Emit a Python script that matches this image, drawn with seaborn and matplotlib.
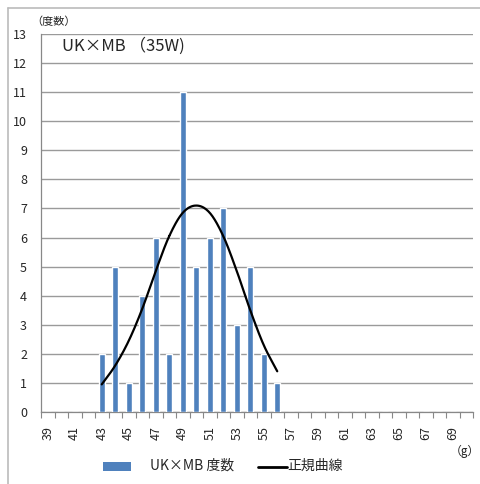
import numpy as np
import pandas as pd
import matplotlib
matplotlib.use("Agg")
import matplotlib.pyplot as plt
import seaborn as sns
from matplotlib.patches import Rectangle
from matplotlib.lines import Line2D

# ---- data ----
categories = list(range(39, 71))
bar_x = [43, 44, 45, 46, 47, 48, 49, 50, 51, 52, 53, 54, 55, 56]
bar_counts = [2, 5, 1, 4, 6, 2, 11, 5, 6, 7, 3, 5, 2, 1]
curve_x = [43, 44, 45, 46, 47, 48, 49, 50, 51, 52, 53, 54, 55, 56]
curve_y = [0.95, 1.6, 2.45, 3.55, 4.85, 6.05, 6.85, 7.1, 6.85, 6.05, 4.85, 3.5, 2.3, 1.4]
y_ticks = list(range(0, 14))
title_text = "UK×MB （35W)"
bar_label = "UK×MB 度数"
curve_label = "正規曲線"
y_unit = "（度数）"
x_unit = "（g）"

sns.set_theme(style="white")
plt.rcParams['font.family'] = ['Noto Sans CJK JP', 'DejaVu Sans']

BLUE = "#4F81BD"
counts_map = dict(zip(bar_x, bar_counts))
df = pd.DataFrame({
    "x": [str(c) for c in categories],
    "count": [counts_map.get(c, 0) for c in categories],
})

fig = plt.figure(figsize=(4.8, 4.84), dpi=100)
ax = fig.add_axes([41/480, 1 - 412/484, (473 - 41)/480, (412 - 34)/484])

sns.barplot(data=df, x="x", y="count", order=[str(c) for c in categories],
            color=BLUE, saturation=1, width=0.45, ax=ax, zorder=3)

# smooth curve (Catmull-Rom rendering through read points)
pos = np.array([categories.index(c) for c in curve_x], dtype=float)
yv = np.array(curve_y, dtype=float)
P = np.column_stack([pos, yv])
P = np.vstack([2 * P[0] - P[1], P, 2 * P[-1] - P[-2]])
xs, ys = [], []
t = np.linspace(0, 1, 20)
for i in range(1, len(P) - 2):
    p0, p1, p2, p3 = P[i - 1], P[i], P[i + 1], P[i + 2]
    for tt in t:
        pt = 0.5 * ((2 * p1) + (-p0 + p2) * tt + (2 * p0 - 5 * p1 + 4 * p2 - p3) * tt**2
                    + (-p0 + 3 * p1 - 3 * p2 + p3) * tt**3)
        xs.append(pt[0]); ys.append(pt[1])
ax.plot(xs, ys, color="black", lw=1.6, zorder=4)

ax.set_xlim(-0.5, len(categories) - 0.5)
ax.set_ylim(0, 13)
ax.set_yticks(y_ticks)
ax.set_yticklabels([str(v) for v in y_ticks], fontsize=9)
ax.yaxis.grid(True, color="#9a9a9a", lw=1.0, zorder=0)
ax.set_axisbelow(True)

ax.set_xticks(range(len(categories)))
ax.set_xticklabels([str(c) if (c - 39) % 2 == 0 else "" for c in categories],
                   rotation=90, fontsize=9)
ax.tick_params(axis="x", which="major", length=0, pad=10)
ax.set_xticks(np.arange(-0.5, len(categories), 1), minor=True)
ax.tick_params(axis="x", which="minor", length=4, color="#888888", width=0.8,
               direction="out", bottom=True)
ax.tick_params(axis="y", length=0, pad=10)

ax.set_xlabel("")
ax.set_ylabel("")
for s in ["top", "right"]:
    ax.spines[s].set_visible(False)
for s in ["left", "bottom"]:
    ax.spines[s].set_color("#888888")
    ax.spines[s].set_linewidth(0.9)

# annotations
fig.text(31/480, 1 - 22/484, y_unit, fontsize=8, va="center", ha="left")
fig.text(62/480, 1 - 46/484, title_text, fontsize=12, va="center", ha="left")
fig.text(465/480, 1 - 451/484, x_unit, fontsize=8.5, va="center", ha="center")

# outer border lines
fig.add_artist(Line2D([8/480, 8/480], [0, 1 - 8/484], color="#bbbbbb", lw=1.2))
fig.add_artist(Line2D([8/480, 1], [1 - 8/484, 1 - 8/484], color="#bbbbbb", lw=1.2))

# legend (drawn manually to match placement)
ly = 1 - 466/484
fig.add_artist(Rectangle((103/480, 1 - 471/484), 28/480, 9/484,
                         transform=fig.transFigure, facecolor=BLUE, edgecolor="none"))
fig.text(150/480, ly, bar_label, fontsize=10, va="center", ha="left")
fig.add_artist(Line2D([258/480, 287/480], [1 - 467/484, 1 - 467/484], color="black", lw=2))
fig.text(287/480, ly, curve_label, fontsize=10, va="center", ha="left")

fig.savefig("out.png", dpi=100)
